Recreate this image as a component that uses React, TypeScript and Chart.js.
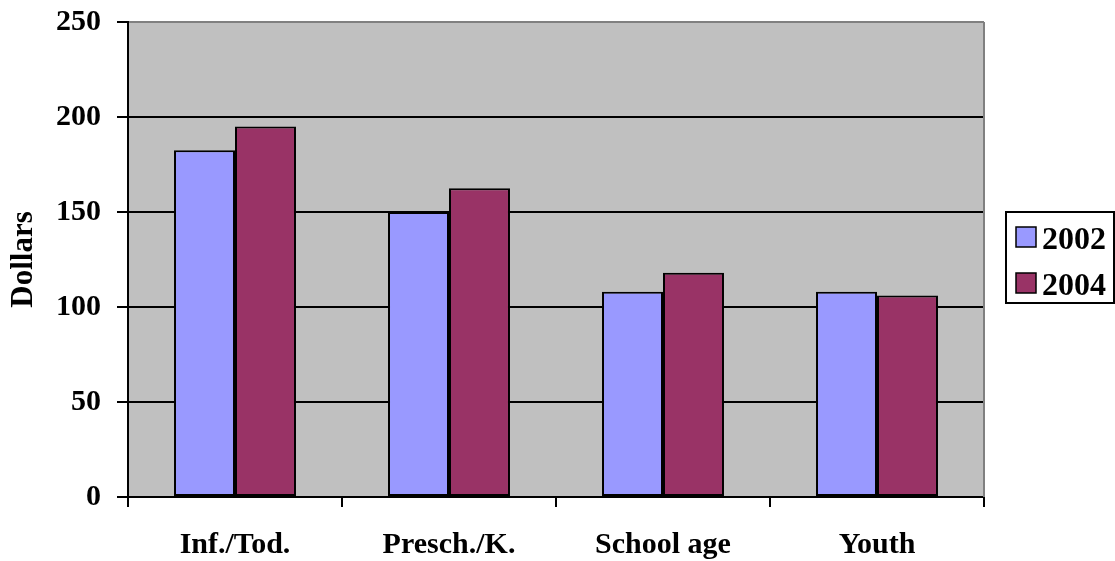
import React, { useEffect, useRef } from "react";
import { Chart, registerables } from "chart.js";

Chart.register(...registerables);

const categories = ["Inf./Tod.", "Presch./K.", "School age", "Youth"];
const values2002 = [182.5, 150, 108, 108];
const values2004 = [195, 162.5, 118, 106];
const seriesLabels = ["2002", "2004"];
const seriesColors = ["#9999FF", "#993366"];
const yMin = 0;
const yMax = 250;
const yStep = 50;
const yTitle = "Dollars";

const FONT = '"Liberation Serif", "Times New Roman", serif';

const backgroundPlugin = {
  id: "plotBackground",
  beforeDraw(chart: any) {
    const { ctx, chartArea: a } = chart;
    ctx.save();
    ctx.fillStyle = "#C0C0C0";
    ctx.fillRect(a.left, a.top, a.right - a.left, a.bottom - a.top);
    ctx.restore();
  },
  beforeDatasetsDraw(chart: any) {
    const { ctx, chartArea: a } = chart;
    ctx.save();
    ctx.strokeStyle = "#808080";
    ctx.lineWidth = 2;
    ctx.beginPath();
    ctx.moveTo(a.right, a.top);
    ctx.lineTo(a.right, a.bottom);
    ctx.stroke();
    ctx.restore();
  },
};

const boxLegendPlugin = {
  id: "boxLegend",
  afterDraw(chart: any) {
    const { ctx, chartArea: a, width } = chart;
    const left = a.right + 22;
    const top = 212;
    const height = 91;
    ctx.save();
    ctx.lineWidth = 2;
    ctx.strokeStyle = "#000";
    ctx.strokeRect(left, top, width - 1 - left, height);
    ctx.font = `bold 32px ${FONT}`;
    ctx.textBaseline = "alphabetic";
    ctx.textAlign = "left";
    chart.data.datasets.forEach((ds: any, i: number) => {
      const y = top + 15 + i * 46;
      ctx.fillStyle = ds.backgroundColor;
      ctx.fillRect(left + 10, y, 20, 20);
      ctx.lineWidth = 1.5;
      ctx.strokeStyle = "#000";
      ctx.strokeRect(left + 10, y, 20, 20);
      ctx.fillStyle = "#000";
      ctx.fillText(ds.label, left + 36, y + 22);
    });
    ctx.restore();
  },
};

export default function App() {
  const canvasRef = useRef<HTMLCanvasElement | null>(null);

  useEffect(() => {
    if (!canvasRef.current) return;
    const chart = new Chart(canvasRef.current, {
      type: "bar",
      data: {
        labels: categories,
        datasets: [
          {
            label: seriesLabels[0],
            data: values2002,
            backgroundColor: seriesColors[0],
            borderColor: "#000",
            borderWidth: 2,
            borderSkipped: false,
          },
          {
            label: seriesLabels[1],
            data: values2004,
            backgroundColor: seriesColors[1],
            borderColor: "#000",
            borderWidth: 2,
            borderSkipped: false,
          },
        ],
      },
      options: {
        responsive: false,
        animation: false,
        layout: { padding: { left: 0, top: 22, right: 131, bottom: 0 } },
        datasets: {
          bar: { categoryPercentage: 0.57, barPercentage: 1 },
        },
        plugins: {
          legend: { display: false },
          tooltip: { enabled: false },
        },
        scales: {
          x: {
            offset: true,
            afterFit: (s: any) => {
              s.height = 64;
              s.paddingLeft = 0;
              s.paddingRight = 0;
            },
            grid: {
              offset: true,
              drawOnChartArea: false,
              drawTicks: true,
              tickLength: 10,
              tickColor: "#000",
              lineWidth: 2,
              color: "#000",
            },
            border: { color: "#000", width: 2 },
            ticks: {
              color: "#000",
              padding: 20,
              font: { family: FONT, size: 30, weight: "bold" },
              maxRotation: 0,
            },
          },
          y: {
            min: yMin,
            max: yMax,
            afterFit: (s: any) => {
              s.width = 128;
              s.paddingTop = 0;
              s.paddingBottom = 0;
            },
            grid: {
              color: (ctx: any) =>
                ctx.tick && ctx.tick.value === yMax ? "#808080" : "#000",
              lineWidth: 2,
              tickLength: 11,
              tickColor: "#000",
            },
            border: { color: "#000", width: 2 },
            ticks: {
              stepSize: yStep,
              color: "#000",
              padding: 16,
              font: { family: FONT, size: 30, weight: "bold" },
            },
            title: {
              display: true,
              text: yTitle,
              color: "#000",
              font: { family: FONT, size: 31, weight: "bold" },
              padding: { top: 5, bottom: 0 },
            },
          },
        },
      },
      plugins: [backgroundPlugin, boxLegendPlugin],
    });
    return () => chart.destroy();
  }, []);

  return (
    <div style={{ position: "absolute", left: 0, top: 0, width: 1115, height: 561, background: "#fff" }}>
      <canvas ref={canvasRef} width={1115} height={561} style={{ display: "block" }} />
    </div>
  );
}
